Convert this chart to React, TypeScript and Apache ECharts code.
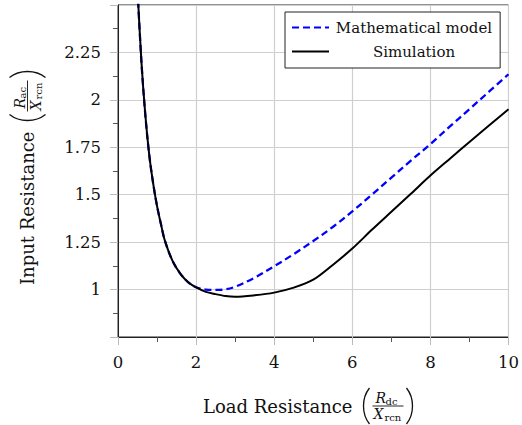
import React, { useEffect, useRef } from "react";
import * as echarts from "echarts";

// Load resistance (x) sample points
const loadResistance = [
  0.5, 0.6, 0.7, 0.8, 0.9, 1.0, 1.1, 1.2, 1.4, 1.6, 1.8, 2.0, 2.25, 2.5, 2.75,
  3.0, 3.5, 4.0, 4.5, 5.0, 5.5, 6.0, 6.5, 7.0, 7.5, 8.0, 8.5, 9.0, 9.5, 10,
];
// Mathematical model (blue dashed)
const modelValues = [
  2.58, 2.2, 1.92, 1.71, 1.56, 1.44, 1.345, 1.258, 1.15, 1.083, 1.038, 1.012,
  1.0, 0.998, 1.001, 1.015, 1.063, 1.123, 1.187, 1.256, 1.33, 1.412, 1.5, 1.59,
  1.68, 1.767, 1.86, 1.951, 2.043, 2.135,
];
// Simulation (black solid)
const simulationValues = [
  2.58, 2.2, 1.92, 1.71, 1.56, 1.44, 1.345, 1.258, 1.15, 1.083, 1.038, 1.011,
  0.988, 0.976, 0.966, 0.962, 0.97, 0.984, 1.01, 1.052, 1.13, 1.216, 1.315,
  1.41, 1.505, 1.601, 1.69, 1.778, 1.865, 1.951,
];
const seriesNames = ["Mathematical model", "Simulation"];
const xRange = [0, 10, 2];
const yRange = [0.75, 2.5, 0.25];
const hiddenYLabels = [0.75, 2.5];

const SERIF = "DejaVu Serif";

function measure(text: string, size: number, family: string) {
  const c = document.createElement("canvas").getContext("2d");
  if (!c) return text.length * size * 0.55;
  c.font = `${size}px "${family}"`;
  return c.measureText(text).width;
}

function txt(text: string, x: number, y: number, size: number, opts: any = {}) {
  return {
    type: "text",
    x,
    y,
    silent: true,
    style: {
      text,
      fontSize: size,
      fontFamily: opts.family || SERIF,
      fontStyle: opts.italic ? "italic" : "normal",
      fill: "#111",
      align: "left",
      textAlign: "left",
      verticalAlign: "middle",
      textVerticalAlign: "middle",
    },
  };
}

function paren(px: number, left: boolean) {
  const dir = left ? -1 : 1;
  return {
    type: "bezierCurve",
    silent: true,
    shape: {
      x1: px,
      y1: -18,
      x2: px,
      y2: 18,
      cpx1: px + dir * 8,
      cpy1: -8,
      cpx2: px + dir * 8,
      cpy2: 8,
    },
    style: { stroke: "#111", lineWidth: 1.3, fill: null },
  };
}

function axisTitle(main: string, sub: string, gx: number, gy: number, rotation: number) {
  const w = measure(main, 18, SERIF);
  const bx = w + 20;
  const children: any[] = [
    txt(main, 0, 0, 18),
    paren(bx - 3, true),
    {
      type: "line",
      silent: true,
      shape: { x1: bx, y1: 0, x2: bx + 31, y2: 0 },
      style: { stroke: "#111", lineWidth: 0.9 },
    },
    txt("R", bx + 3, -8, 14, { italic: true }),
    txt(sub, bx + 13, -5, 10),
    txt("X", bx + 1, 8, 14, { italic: true }),
    txt("rcn", bx + 12, 11, 10),
    paren(bx + 34, false),
  ];
  return { type: "group", x: gx, y: gy, rotation, children };
}

export default function App() {
  const ref = useRef<HTMLDivElement>(null);
  useEffect(() => {
    if (!ref.current) return;
    const chart = echarts.init(ref.current, undefined, { renderer: "svg" });
    const modelData = loadResistance.map((x, i) => [x, modelValues[i]]);
    const simData = loadResistance.map((x, i) => [x, simulationValues[i]]);
    chart.setOption({
      animation: false,
      backgroundColor: "#fff",
      grid: {
        left: 118,
        top: 5,
        right: 10,
        bottom: 88,
        show: true,
        borderColor: "#222",
        borderWidth: 1,
        backgroundColor: "transparent",
      },
      legend: {
        orient: "vertical",
        left: 285,
        top: 12,
        padding: [8, 8, 9, 6],
        itemGap: 9,
        itemWidth: 37,
        itemHeight: 16,
        backgroundColor: "#fff",
        borderColor: "#222",
        borderWidth: 1,
        borderRadius: 0,
        itemStyle: { opacity: 0 },
        data: seriesNames,
        formatter: (name: string) => `{c|${name}}`,
        textStyle: {
          fontFamily: SERIF,
          fontSize: 15,
          color: "#111",
          rich: {
            c: { width: 160, align: "center", fontFamily: SERIF, fontSize: 15, color: "#111" },
          },
        },
      },
      xAxis: {
        type: "value",
        min: xRange[0],
        max: xRange[1],
        interval: xRange[2],
        axisLine: { show: true, lineStyle: { color: "#222", width: 1 } },
        axisTick: { show: true, inside: false, length: 8, lineStyle: { color: "#bbb", width: 1 } },
        minorTick: { show: true, splitNumber: 2, length: 5, lineStyle: { color: "#555", width: 1 } },
        splitLine: { show: true, lineStyle: { color: "#cfcfcf", width: 1.2 } },
        axisLabel: { margin: 17, fontFamily: SERIF, fontSize: 16.5, color: "#111" },
      },
      yAxis: {
        type: "value",
        min: yRange[0],
        max: yRange[1],
        interval: yRange[2],
        axisLine: { show: true, lineStyle: { color: "#222", width: 1 } },
        axisTick: { show: true, inside: false, length: 8, lineStyle: { color: "#bbb", width: 1 } },
        minorTick: { show: true, splitNumber: 2, length: 5, lineStyle: { color: "#555", width: 1 } },
        splitLine: { show: true, lineStyle: { color: "#cfcfcf", width: 1.2 } },
        axisLabel: {
          margin: 17,
          fontFamily: SERIF,
          fontSize: 16.5,
          color: "#111",
          formatter: (v: number) =>
            hiddenYLabels.some((h) => Math.abs(h - v) < 1e-9) ? "" : String(v),
        },
      },
      series: [
        {
          name: seriesNames[0],
          type: "line",
          data: modelData,
          smooth: 0.35,
          showSymbol: false,
          symbol: "none",
          clip: true,
          z: 3,
          itemStyle: { color: "#0000ff" },
          lineStyle: { color: "#0000ff", width: 2.3, type: [7, 4] },
        },
        {
          name: seriesNames[1],
          type: "line",
          data: simData,
          smooth: 0.3,
          showSymbol: false,
          symbol: "none",
          clip: true,
          z: 4,
          itemStyle: { color: "#000" },
          lineStyle: { color: "#000", width: 2 },
        },
      ],
      graphic: [
        axisTitle("Load Resistance", "dc", 203, 406, 0),
        axisTitle("Input Resistance", "ac", 27.5, 285, Math.PI / 2),
      ],
    });
    return () => chart.dispose();
  }, []);
  return (
    <div
      ref={ref}
      style={{ position: "absolute", left: 0, top: 0, width: 522, height: 425 }}
    />
  );
}
